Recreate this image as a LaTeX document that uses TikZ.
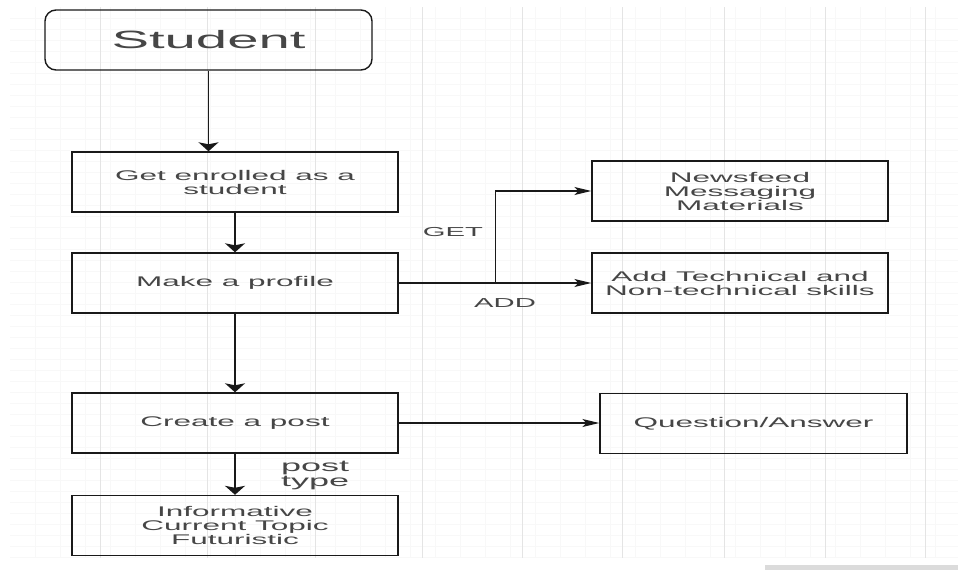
\documentclass[tikz,border=0pt]{standalone}
\usepackage{fontspec}
\newfontfamily\wfont[FakeStretch=2.25]{Liberation Sans}
\usetikzlibrary{arrows.meta}
\definecolor{txt}{RGB}{70,70,70}
\definecolor{gridmaj}{RGB}{228,228,228}
\definecolor{gridmin}{RGB}{248,248,248}
\definecolor{edge}{RGB}{25,25,25}
\begin{document}
\begin{tikzpicture}[x=1pt,y=-1pt,
  box/.style={draw=edge, line width=1.4pt, minimum width=326pt, minimum height=60pt,
    inner sep=0pt, align=center, text=txt, font=\wfont\fontsize{14}{14}\selectfont},
  lbl/.style={text=txt, inner sep=0pt, align=left, font=\wfont\fontsize{13}{13}\selectfont},
  vconn/.style={draw=edge, line width=1.8pt, -{Stealth[length=9pt,width=20pt,inset=2pt]}},
  hconn/.style={draw=edge, line width=1.1pt, -{Stealth[length=17pt,width=8pt,inset=4pt]}}]
% canvas
\fill[white] (0,0) rectangle (958,570);
\useasboundingbox (0,0) rectangle (958,570);
% faint background grid
\foreach \yy in {18,29,...,557} \draw[gridmin, line width=0.5pt] (10,\yy) -- (958,\yy);
\foreach \xx in {35,60,...,958} \draw[gridmin, line width=0.5pt] (\xx,7) -- (\xx,558);
\foreach \xx in {100,207,315,422,522,622,724,825,925} \draw[gridmaj, line width=0.8pt] (\xx,7) -- (\xx,558);
\fill[black!14] (765,565) rectangle (958,570);
% nodes
\node[box, rounded corners=11pt, minimum width=327pt, font=\wfont\fontsize{25}{25}\selectfont] (student) at (208.5,40) {Student};
\node[box] (enrol) at (235,182) {Get enrolled as a\\student};
\node[box] (profile) at (235,283) {Make a profile};
\node[box] (post) at (235,423) {Create a post};
\node[box] (info) at (235,525.5) {Informative\\Current Topic\\Futuristic};
\node[box, minimum width=296pt] (news) at (740,191) {Newsfeed\\Messaging\\Materials};
\node[box, minimum width=296pt] (skills) at (740,283) {Add Technical and\\Non-technical skills};
\node[box, minimum width=307pt] (qa) at (753.5,423.5) {Question/Answer};
% labels
\node[lbl] (get) at (453,232) {GET};
\node[lbl] (add) at (505,303) {ADD};
\node[lbl, anchor=west, font=\wfont\fontsize{16}{15}\selectfont] (ptype) at (281,475.5) {post\\type};
% connectors
\draw[vconn] (student.south) -- (student.south |- enrol.north);
\draw[vconn] (enrol.south) -- (profile.north);
\draw[vconn] (profile.south) -- (post.north);
\draw[vconn] (post.south) -- (info.north);
\coordinate (br) at ([xshift=97pt]profile.east);
\draw[hconn] (profile.east) -- (skills.west);
\draw[hconn] (br) |- (news.west);
\draw[hconn] (post.east) -- (post.east -| qa.west);
\end{tikzpicture}
\end{document}
